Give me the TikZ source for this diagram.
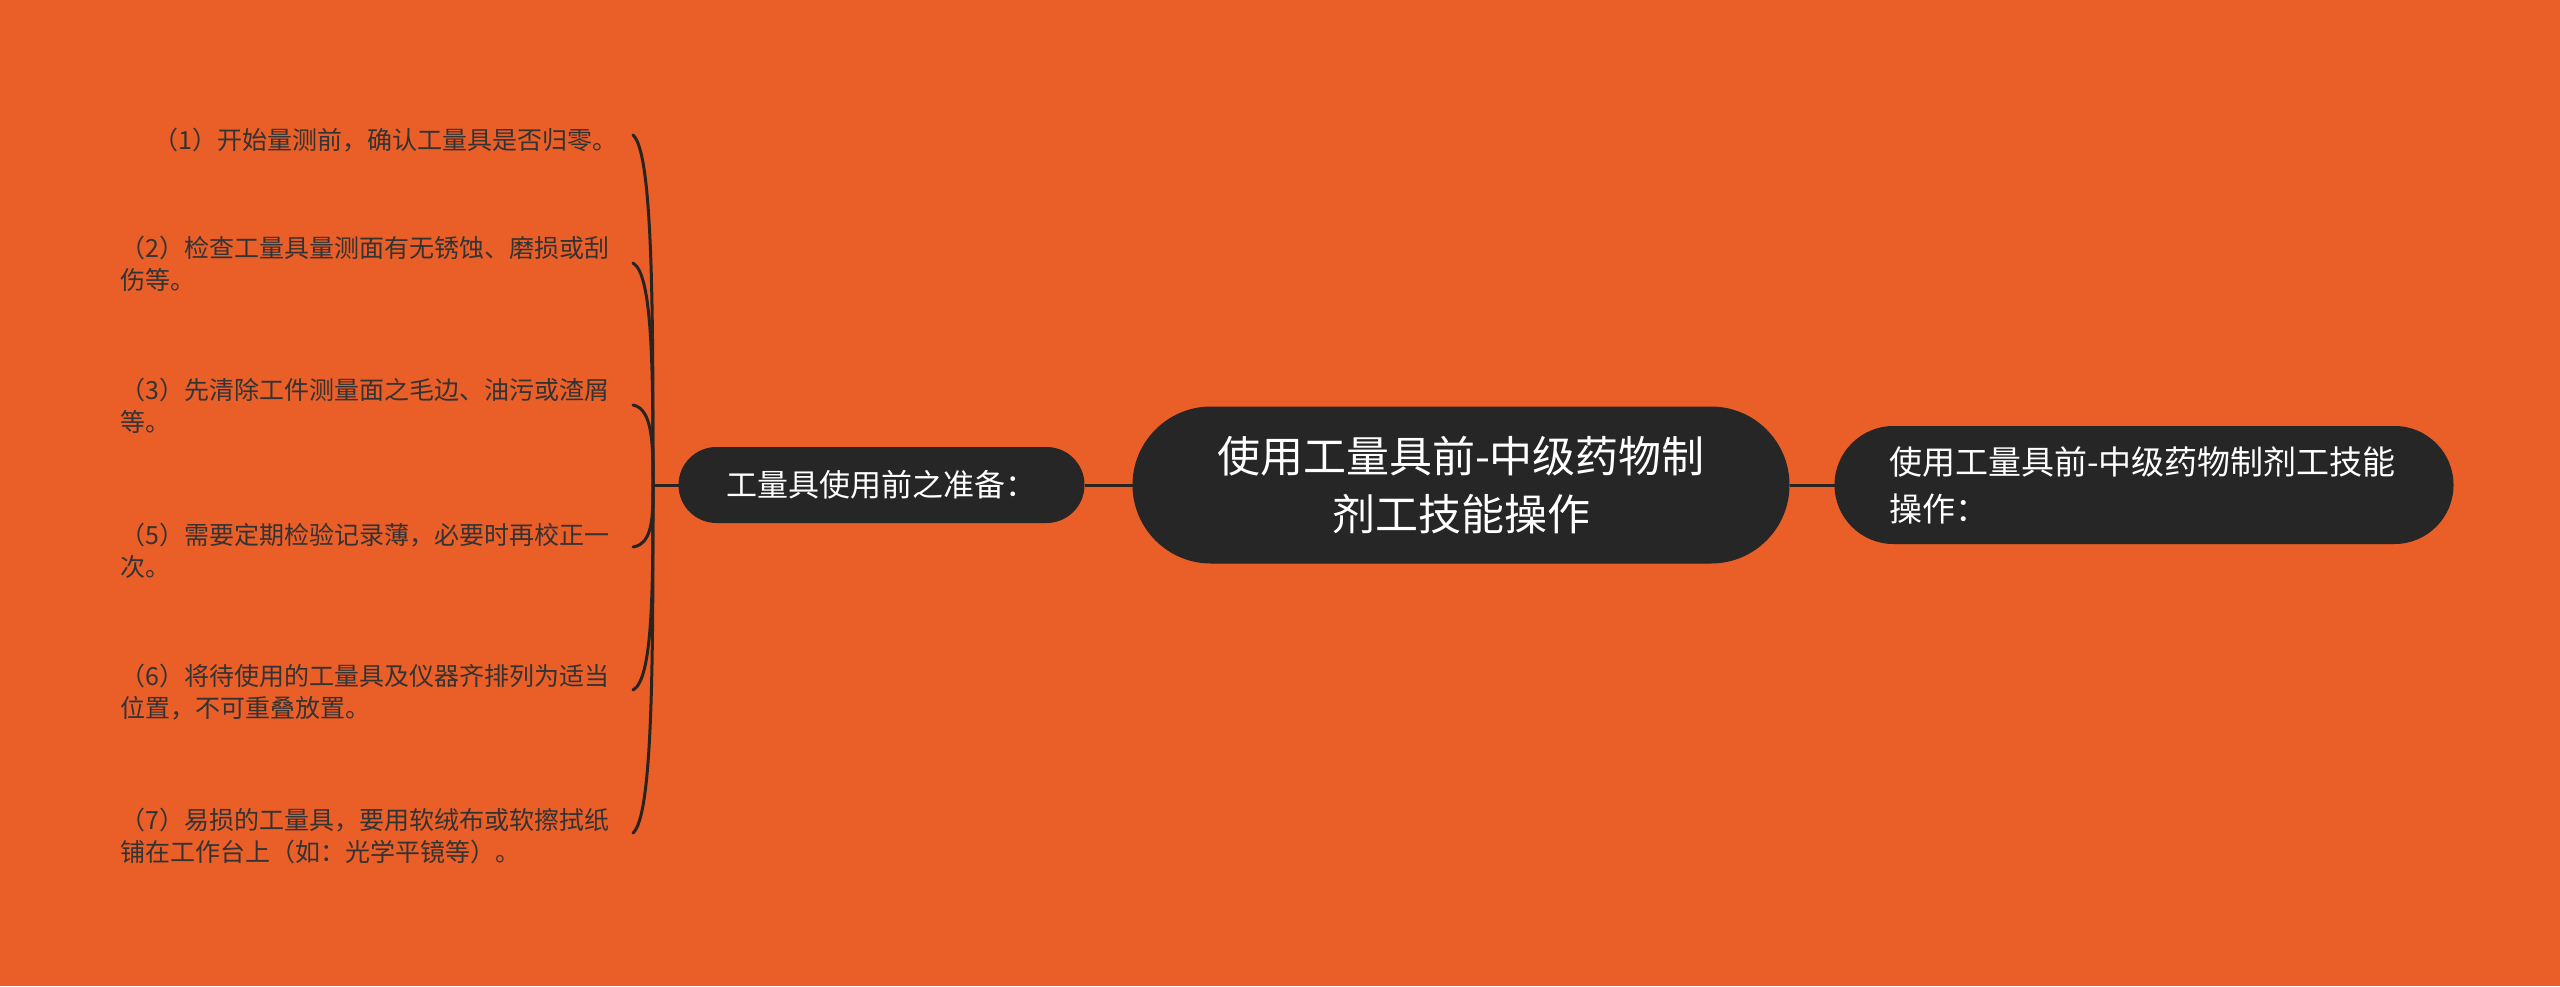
\documentclass[tikz,border=0pt]{standalone}
\usepackage{fontspec}
\setmainfont{Noto Sans CJK SC}
\definecolor{bg}{HTML}{EA5E28}
\definecolor{nodefill}{HTML}{262626}
\definecolor{linec}{HTML}{2A2420}
\definecolor{leaftext}{HTML}{333333}
\begin{document}
\begin{tikzpicture}[x=1pt,y=-1pt,
  pill/.style={fill=nodefill, draw=black!85, line width=1pt, text=white, inner sep=0pt},
  leaf/.style={text=leaftext, font=\fontsize{25}{32}\selectfont, align=left, inner sep=0pt, anchor=west},
  conn/.style={draw=linec, line width=3pt},
  bracecurve/.style={draw=linec, line width=3pt, line cap=round}]
\fill[bg] (0,0) rectangle (2560,986);
\useasboundingbox (0,0) rectangle (2560,986);

% central node
\node[pill, align=center, minimum width=656, minimum height=156, rounded corners=78,
      font=\fontsize{43}{58}\selectfont] (main) at (1461,485) {使用工量具前-中级药物制\\剂工技能操作};
% left branch node
\node[pill, align=center, minimum width=405, minimum height=75, rounded corners=37.5,
      font=\fontsize{31}{40}\selectfont] (left) at (881.5,485) {工量具使用前之准备：};
% right branch node
\node[pill, align=left, text width=510, inner xsep=54, minimum height=117, rounded corners=58.5,
      font=\fontsize{33}{47}\selectfont] (right) at (2144,485) {\mbox{使用工量具前-中级药物制剂工技能}\\操作：};

% connectors
\draw[conn] (left.east) -- (main.west);
\draw[conn] (main.east) -- (right.west);
\coordinate (trunk) at (653,485);
\draw[conn] (trunk) -- (left.west);

% leaves
\node[leaf, anchor=east, align=right] (l1) at (618,140) {（1）开始量测前，确认工量具是否归零。};
\node[leaf] (l2) at (120,264) {（2）检查工量具量测面有无锈蚀、磨损或刮\\伤等。};
\node[leaf] (l3) at (120,406) {（3）先清除工件测量面之毛边、油污或渣屑\\等。};
\node[leaf] (l5) at (120,551) {（5）需要定期检验记录薄，必要时再校正一\\次。};
\node[leaf] (l6) at (120,692) {（6）将待使用的工量具及仪器齐排列为适当\\位置，不可重叠放置。};
\node[leaf] (l7) at (120,836) {（7）易损的工量具，要用软绒布或软擦拭纸\\铺在工作台上（如：光学平镜等）。};

% bracket curves
\foreach \n/\yy in {1/135, 2/263, 3/405, 5/547, 6/690, 7/833}{
  \coordinate (e\n) at (633,\yy);
  \pgfmathsetmacro{\pa}{\yy+0.5*(485-\yy)}
  \pgfmathsetmacro{\pb}{\yy+0.05*(485-\yy)}
  \draw[bracecurve] (trunk) .. controls (653,\pa) and (653,\pb) .. (e\n);
}
\end{tikzpicture}
\end{document}
